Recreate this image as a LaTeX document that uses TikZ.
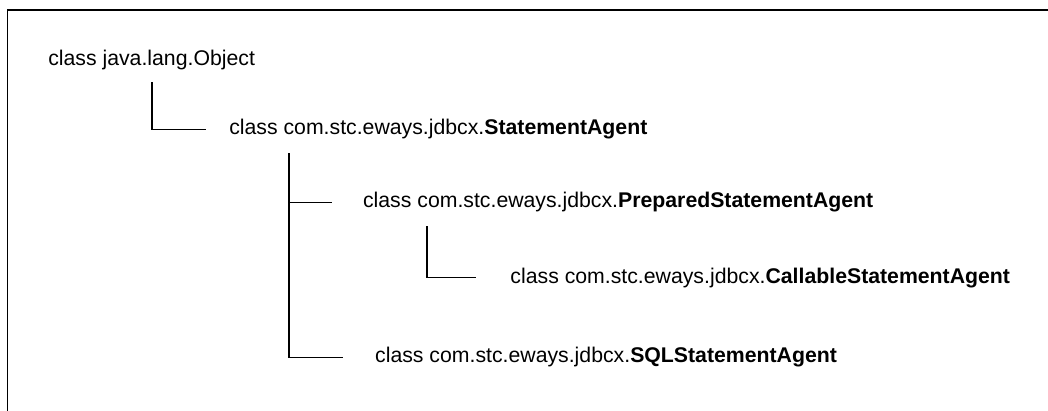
\documentclass[tikz,border=0pt]{standalone}
\usepackage{fontspec}
\setmainfont{Liberation Sans}
\usetikzlibrary{calc,positioning}

\begin{document}
\begin{tikzpicture}[cls/.style={anchor=base west, inner sep=0pt, font=\fontsize{16}{19}\selectfont},
    link/.style={line width=1pt}, frame/.style={line width=1.4pt}]
  \useasboundingbox (0,0) rectangle (27.73,-10.87);
  \draw[frame] (0.2,-11) |- (28,-0.26);
  \node[cls] (obj) at (1.27,-1.72) {class java.lang.Object};
  \node[cls] (sa) at (6.06,-3.57) {class com.stc.eways.jdbcx.\textbf{StatementAgent}};
  \node[cls] (psa) at (9.60,-5.50) {class com.stc.eways.jdbcx.\textbf{PreparedStatementAgent}};
  \node[cls] (csa) at (13.50,-7.49) {class com.stc.eways.jdbcx.\textbf{CallableStatementAgent}};
  \node[cls] (ssa) at (9.92,-9.60) {class com.stc.eways.jdbcx.\textbf{SQLStatementAgent}};
  \draw[link] ([xshift=2.75cm,yshift=-0.33cm]obj.south west) |- ([xshift=-0.61cm]sa.west);
  \draw[link] ([xshift=1.59cm,yshift=-0.36cm]sa.south west) coordinate (top) |- ([xshift=-0.85cm]ssa.west);
  \draw[link] (top |- psa.west) -- ([xshift=-0.82cm]psa.west);
  \draw[link] ([xshift=1.70cm,yshift=-0.36cm]psa.south west) |- ([xshift=-0.9cm]csa.west);
\end{tikzpicture}
\end{document}
